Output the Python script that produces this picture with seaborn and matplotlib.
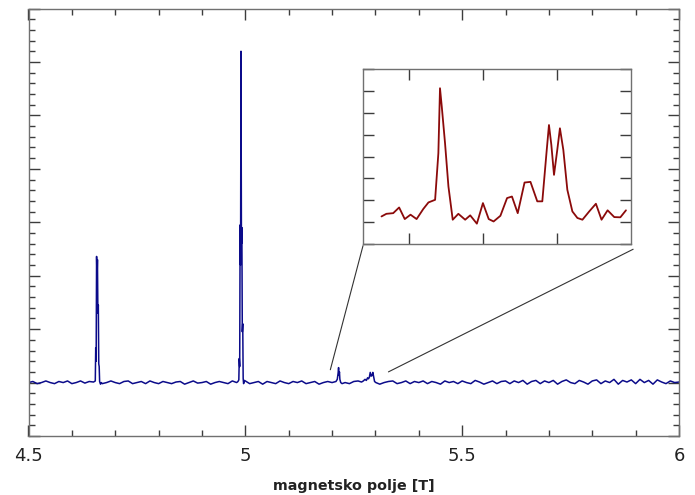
import numpy as np
import pandas as pd
import matplotlib
matplotlib.use("Agg")
import matplotlib.pyplot as plt
import seaborn as sns
from matplotlib.patches import ConnectionPatch
from matplotlib.ticker import MultipleLocator, FixedLocator, NullFormatter

# ---------------- data ----------------
# baseline samples on a 0.01 T grid from 4.50 T to 6.00 T
base_start, base_step = 4.50, 0.01
base_signal = [
    0.00, 0.02, -0.02, 0.00, 0.03, 0.00, -0.02, 0.02, 0.00, 0.03,   # 4.50
    -0.02, 0.00, 0.03, -0.01, 0.02, 0.00, 0.01, -0.02, 0.00, 0.03,  # 4.60
    0.00, -0.02, 0.02, 0.03, -0.02, 0.00, 0.02, -0.02, 0.03, 0.00,  # 4.70
    -0.02, 0.02, 0.00, -0.02, 0.01, 0.02, -0.03, 0.00, 0.03, -0.01, # 4.80
    0.00, 0.02, -0.03, 0.00, 0.02, 0.00, -0.02, 0.03, 0.00, 0.02,   # 4.90
    0.03, -0.02, 0.00, 0.02, -0.03, 0.02, 0.00, -0.02, 0.03, 0.00,  # 5.00
    -0.02, 0.02, 0.00, 0.03, -0.02, 0.00, 0.02, -0.03, 0.00, 0.02,  # 5.10
    0.00, 0.02, 0.00, 0.00, -0.02, 0.02, 0.03, 0.01, 0.00, 0.00,    # 5.20
    0.02, -0.03, 0.00, 0.02, 0.03, -0.02, 0.00, 0.03, -0.02, 0.02,  # 5.30
    0.00, 0.03, -0.02, 0.02, 0.00, -0.03, 0.03, 0.00, 0.02, -0.02,  # 5.40
    0.03, 0.00, -0.02, 0.04, 0.01, -0.03, 0.00, 0.03, -0.02, 0.02,  # 5.50
    0.03, -0.02, 0.03, 0.00, 0.04, -0.03, 0.02, 0.04, -0.02, 0.03,  # 5.60
    0.00, 0.04, -0.03, 0.02, 0.05, 0.00, -0.02, 0.04, 0.01, -0.03,  # 5.70
    0.03, 0.05, -0.02, 0.03, 0.00, 0.06, -0.03, 0.04, 0.01, 0.05,   # 5.80
    -0.02, 0.06, 0.00, 0.04, -0.03, 0.05, 0.01, -0.02, 0.03, 0.00,  # 5.90
    0.01,                                                            # 6.00
]

# resonance peaks (finely sampled)
peak_field = [
    4.650, 4.654, 4.655, 4.656, 4.657, 4.658, 4.659, 4.660, 4.661, 4.662, 4.663, 4.664, 4.666, 4.668,
    4.983, 4.985, 4.986, 4.987, 4.988, 4.989, 4.990, 4.991, 4.992, 4.993, 4.994, 4.995, 4.996, 4.998,
    5.209, 5.212, 5.214, 5.215, 5.216, 5.217, 5.218, 5.220, 5.223,
    5.268, 5.272, 5.276, 5.279, 5.282, 5.284, 5.286, 5.288, 5.290, 5.292, 5.294, 5.296, 5.298, 5.301,
]
peak_signal = [
    0.01, 0.03, 0.65, 0.40, 2.36, 1.95, 2.30, 1.30, 1.45, 0.35, 0.30, 0.02, -0.03, 0.00,
    0.02, 0.05, 0.45, 0.30, 2.95, 2.20, 6.20, 2.60, 2.90, 0.95, 1.10, 0.08, -0.02, 0.04,
    0.02, 0.06, 0.18, 0.28, 0.14, 0.20, 0.06, 0.00, -0.02,
    0.01, 0.03, 0.06, 0.04, 0.09, 0.07, 0.10, 0.19, 0.12, 0.13, 0.19, 0.10, 0.02, 0.00,
]
peak_windows = [(4.645, 4.669), (4.980, 4.999), (5.205, 5.224), (5.265, 5.302)]

# inset: zoom on the weak lines
inset_field = [
    5.1815, 5.1848, 5.1894, 5.1934, 5.1972, 5.2011, 5.2052, 5.2097, 5.2132, 5.2177,
    5.2199, 5.2210, 5.2222, 5.2244, 5.2267, 5.2296, 5.2334, 5.2380, 5.2414, 5.2459,
    5.2500, 5.2539, 5.2572, 5.2618, 5.2663, 5.2696, 5.2735, 5.2781, 5.2821, 5.2867,
    5.2901, 5.2930, 5.2946, 5.2962, 5.2980, 5.3002, 5.3020, 5.3043, 5.3070, 5.3104,
    5.3138, 5.3172, 5.3218, 5.3263, 5.3301, 5.3342, 5.3387, 5.3428, 5.3466,
]
inset_signal = [
    1.26, 1.38, 1.41, 1.67, 1.14, 1.34, 1.14, 1.60, 1.90, 2.02,
    4.15, 7.12, 6.28, 4.61, 2.63, 1.11, 1.38, 1.11, 1.31, 0.93,
    1.87, 1.14, 1.03, 1.29, 2.10, 2.17, 1.41, 2.81, 2.84, 1.95,
    1.95, 4.23, 5.44, 4.53, 3.16, 4.30, 5.29, 4.30, 2.48, 1.49,
    1.19, 1.11, 1.49, 1.84, 1.11, 1.54, 1.23, 1.22, 1.54,
]

x_label = "magnetsko polje [T]"
x_ticks = [4.5, 5, 5.5, 6]
x_ticklabels = ["4.5", "5", "5.5", "6"]

# ---------------- assemble ----------------
base_field = np.round(base_start + base_step * np.arange(len(base_signal)), 3)
keep = np.ones(len(base_field), bool)
for lo, hi in peak_windows:
    keep &= ~((base_field > lo) & (base_field < hi))
main_df = pd.DataFrame({
    "field": np.concatenate([base_field[keep], peak_field]),
    "signal": np.concatenate([np.array(base_signal)[keep], peak_signal]),
}).sort_values("field")
inset_df = pd.DataFrame({"field": inset_field, "signal": inset_signal})

# ---------------- style ----------------
sns.set_style("ticks")
plt.rcParams["font.family"] = ["DejaVu Sans"]
spine_c = "#707070"
tick_c = "#3c3c3c"

fig = plt.figure(figsize=(6.95, 4.95), dpi=100)
ax = fig.add_axes([28.5 / 695, 1 - 436 / 495, (679 - 28.5) / 695, (436 - 8.5) / 495])

sns.lineplot(data=main_df, x="field", y="signal", ax=ax, estimator=None, sort=False,
             color="#0b0b8a", linewidth=1.1)

ax.set_xlim(4.5, 6.0)
ax.set_ylim(-1, 7)
ax.xaxis.set_major_locator(FixedLocator(x_ticks))
ax.set_xticklabels(x_ticklabels)
ax.xaxis.set_minor_locator(MultipleLocator(0.1))
ax.yaxis.set_major_locator(MultipleLocator(1))
ax.yaxis.set_minor_locator(MultipleLocator(0.2))
ax.yaxis.set_major_formatter(NullFormatter())
ax.tick_params(which="both", direction="in", top=True, right=True, color=tick_c, width=1.0)
ax.tick_params(which="major", length=8)
ax.tick_params(which="minor", length=4.3)
ax.tick_params(axis="x", which="major", labelsize=13, pad=8, labelcolor="#222222")
for s in ax.spines.values():
    s.set_color(spine_c)
    s.set_linewidth(1.0)
ax.set_ylabel("")
ax.set_xlabel(x_label, fontsize=10.3, fontweight="bold", labelpad=10, color="#222222")

# ---------------- inset ----------------
axi = fig.add_axes([363 / 695, 1 - 244 / 495, (631 - 363) / 695, (244 - 69) / 495])
sns.lineplot(data=inset_df, x="field", y="signal", ax=axi, estimator=None, sort=False,
             color="#8b0a0a", linewidth=1.3)
axi.set_xlim(5.169, 5.350)
axi.set_ylim(0, 8)
axi.xaxis.set_major_locator(FixedLocator([5.2, 5.25, 5.3]))
axi.yaxis.set_major_locator(MultipleLocator(1))
axi.yaxis.set_minor_locator(FixedLocator([]))
axi.xaxis.set_minor_locator(FixedLocator([]))
axi.xaxis.set_major_formatter(NullFormatter())
axi.yaxis.set_major_formatter(NullFormatter())
axi.tick_params(which="both", direction="in", top=True, right=True, color=tick_c,
                width=1.0, length=8)
axi.set_xlabel("")
axi.set_ylabel("")
for s in axi.spines.values():
    s.set_color(spine_c)
    s.set_linewidth(1.0)

# connector lines from the zoomed region to the inset
for (xa, ya), (xb, yb) in [((5.196, 0.24), (0.0, -0.01)), ((5.330, 0.20), (1.008, -0.03))]:
    con = ConnectionPatch(xyA=(xa, ya), coordsA=ax.transData,
                          xyB=(xb, yb), coordsB=axi.transAxes,
                          color="#333333", linewidth=0.8)
    fig.add_artist(con)

fig.savefig("out.png", dpi=100)
